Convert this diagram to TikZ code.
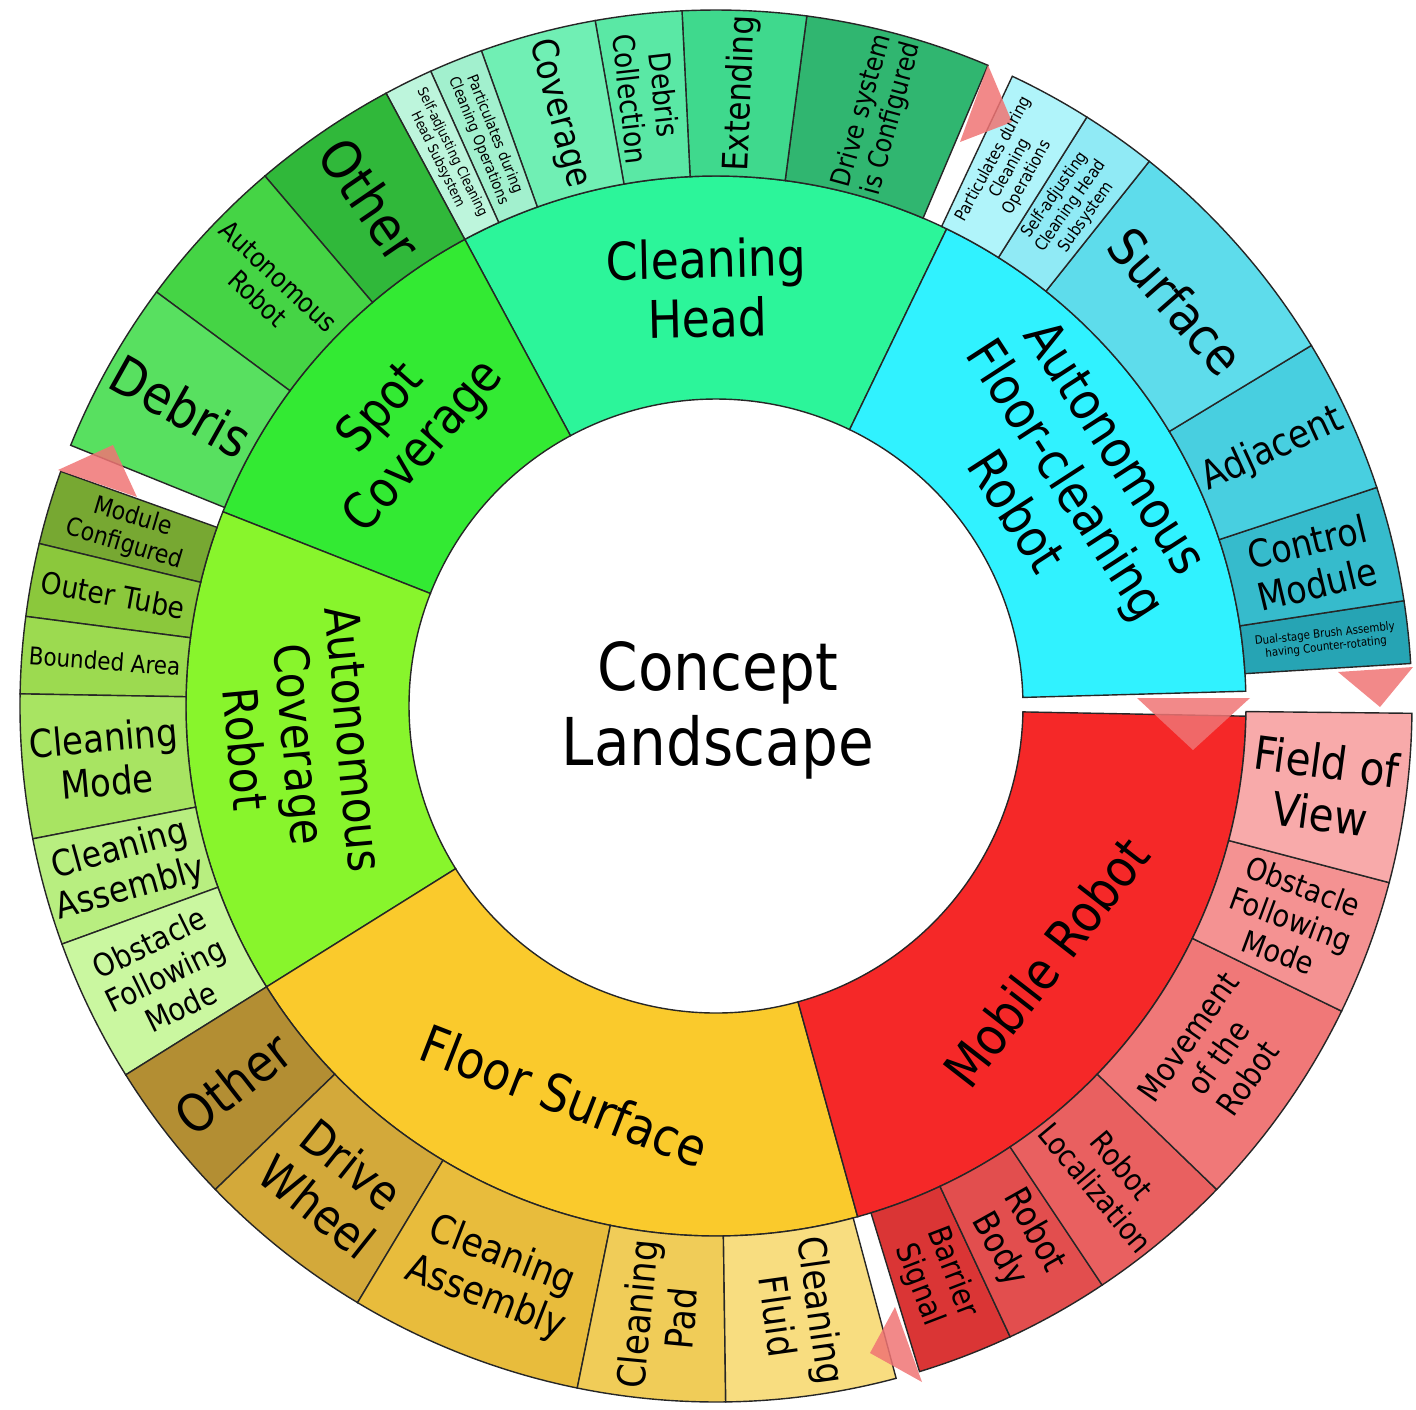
\documentclass[tikz,border=0pt]{standalone}
\usepackage{fontspec}
\setmainfont{DejaVu Sans}[FakeStretch=0.88]
\usepackage{tikz}

\definecolor{chead}{HTML}{2CF59A}
\definecolor{spot}{HTML}{33EA33}
\definecolor{acov}{HTML}{88F52C}
\definecolor{floor}{HTML}{FACA2C}
\definecolor{mobile}{HTML}{F52828}
\definecolor{afloor}{HTML}{30F2FF}
\definecolor{cyA}{HTML}{B0F4FA}
\definecolor{cyB}{HTML}{90EAF5}
\definecolor{cyC}{HTML}{5EDCEB}
\definecolor{cyD}{HTML}{48CFE0}
\definecolor{cyE}{HTML}{36BBCC}
\definecolor{cyF}{HTML}{26A4B4}
\definecolor{ghA}{HTML}{BDF5DC}
\definecolor{ghB}{HTML}{A2F0CE}
\definecolor{ghC}{HTML}{70EFB4}
\definecolor{ghD}{HTML}{5AE8A5}
\definecolor{ghE}{HTML}{3FD98D}
\definecolor{ghF}{HTML}{30B670}
\definecolor{spA}{HTML}{58E060}
\definecolor{spB}{HTML}{45D445}
\definecolor{spC}{HTML}{30B83A}
\definecolor{cvA}{HTML}{CAF7A0}
\definecolor{cvB}{HTML}{B8EE80}
\definecolor{cvC}{HTML}{A8E462}
\definecolor{cvD}{HTML}{9CDA50}
\definecolor{cvE}{HTML}{8BC83C}
\definecolor{cvF}{HTML}{77A832}
\definecolor{flA}{HTML}{B38E33}
\definecolor{flB}{HTML}{D3A93A}
\definecolor{flC}{HTML}{E8BC3C}
\definecolor{flD}{HTML}{F0CC58}
\definecolor{flE}{HTML}{F8DD80}
\definecolor{mrA}{HTML}{DA3535}
\definecolor{mrB}{HTML}{E24E4E}
\definecolor{mrC}{HTML}{E96060}
\definecolor{mrD}{HTML}{F07878}
\definecolor{mrE}{HTML}{F49292}
\definecolor{mrF}{HTML}{F8AAAA}
\definecolor{marker}{HTML}{F07474}

\def\ri{153.5pt}
\def\rmid{265pt}
\def\ro{348pt}
\newcommand{\seg}[5]{\filldraw[seg,fill=#5] (#1:#3) arc[start angle=#1,end angle=#2,radius=#3] -- (#2:#4) arc[start angle=#2,end angle=#1,radius=#4] -- cycle;}
\newcommand{\fs}[1]{\fontsize{#1}{\fpeval{1.14*#1}}\selectfont}

\begin{document}
\begin{tikzpicture}[seg/.style={draw=black!85,line width=0.7pt},
  lbl/.style={align=center,inner sep=0pt,text=black},
  gapmark/.style={fill=marker,opacity=0.85}]
\useasboundingbox (-358pt,-351.5pt) rectangle (350pt,353pt);

% inner ring
\seg{64.2}{118.3}{\ri}{\rmid}{chead}
\seg{118.3}{158.5}{\ri}{\rmid}{spot}
\seg{158.5}{212}{\ri}{\rmid}{acov}
\seg{212}{285.5}{\ri}{\rmid}{floor}
\seg{285.5}{358.9}{\ri}{\rmid}{mobile}
\seg{1.6}{64.2}{\ri}{\rmid}{afloor}

% outer ring
\seg{3.5}{8.7}{\rmid}{\ro}{cyF}
\seg{8.7}{18.3}{\rmid}{\ro}{cyE}
\seg{18.3}{31.2}{\rmid}{\ro}{cyD}
\seg{31.2}{51.5}{\rmid}{\ro}{cyC}
\seg{51.5}{57.8}{\rmid}{\ro}{cyB}
\seg{57.8}{64.8}{\rmid}{\ro}{cyA}
\seg{67}{82.5}{\rmid}{\ro}{ghF}
\seg{82.5}{92.8}{\rmid}{\ro}{ghE}
\seg{92.8}{100}{\rmid}{\ro}{ghD}
\seg{100}{109.7}{\rmid}{\ro}{ghC}
\seg{109.7}{114.2}{\rmid}{\ro}{ghB}
\seg{114.2}{118.3}{\rmid}{\ro}{ghA}
\seg{118.3}{130.4}{\rmid}{\ro}{spC}
\seg{130.4}{143.5}{\rmid}{\ro}{spB}
\seg{143.5}{158}{\rmid}{\ro}{spA}
\seg{160.3}{166.5}{\rmid}{\ro}{cvF}
\seg{166.5}{172.6}{\rmid}{\ro}{cvE}
\seg{172.6}{179}{\rmid}{\ro}{cvD}
\seg{179}{191}{\rmid}{\ro}{cvC}
\seg{191}{200}{\rmid}{\ro}{cvB}
\seg{200}{212}{\rmid}{\ro}{cvA}
\seg{212}{224}{\rmid}{\ro}{flA}
\seg{224}{239}{\rmid}{\ro}{flB}
\seg{239}{258.5}{\rmid}{\ro}{flC}
\seg{258.5}{270.8}{\rmid}{\ro}{flD}
\seg{270.8}{285}{\rmid}{\ro}{flE}
\seg{287}{295}{\rmid}{\ro}{mrA}
\seg{295}{303.7}{\rmid}{\ro}{mrB}
\seg{303.7}{316}{\rmid}{\ro}{mrC}
\seg{316}{334}{\rmid}{\ro}{mrD}
\seg{334}{345.3}{\rmid}{\ro}{mrE}
\seg{345.3}{359.4}{\rmid}{\ro}{mrF}

% gap markers
\fill[gapmark] (136pt,320.5pt) -- (148pt,292pt) -- (122pt,282pt) -- cycle;
\fill[gapmark] (-301.5pt,130.5pt) -- (-289.5pt,104.5pt) -- (-329pt,118pt) -- cycle;
\fill[gapmark] (210.5pt,4pt) -- (267pt,4pt) -- (238.5pt,-22pt) -- cycle;
\fill[gapmark] (311pt,17pt) -- (348.5pt,19.5pt) -- (332pt,-0.5pt) -- cycle;
\fill[gapmark] (89.5pt,-300.5pt) -- (77pt,-323.5pt) -- (103pt,-338pt) -- cycle;

\node[lbl,font=\fs{33}] (centre) at (1pt,-2pt) {Concept\\Landscape};

\node[lbl,rotate=1.25,font=\fs{26}] (m1) at (91.25:209pt) {Cleaning\\Head};
\node[lbl,rotate=48.4,font=\fs{25}] (m2) at (138.4:209pt) {Spot\\Coverage};
\node[lbl,rotate=-84.75,font=\fs{24}] (m3) at (185.25:209pt) {Autonomous\\Coverage\\Robot};
\node[lbl,rotate=-21.25,font=\fs{26}] (m4) at (248.75:209pt) {Floor Surface};
\node[lbl,rotate=52.2,font=\fs{26}] (m5) at (322.2:209pt) {Mobile Robot};
\node[lbl,rotate=-57.1,font=\fs{26}] (m6) at (32.9:209pt) {Autonomous\\Floor-cleaning\\Robot};

\node[lbl,rotate=6.1,font=\fs{5.8}] (o1) at (6.1:306.5pt) {Dual-stage Brush Assembly\\having Counter-rotating};
\node[lbl,rotate=13.5,font=\fs{19}] (o2) at (13.5:306.5pt) {Control\\Module};
\node[lbl,rotate=24.75,font=\fs{19.5}] (o3) at (24.75:306.5pt) {Adjacent};
\node[lbl,rotate=-48.65,font=\fs{26}] (o4) at (41.35:306.5pt) {Surface};
\node[lbl,rotate=54.65,font=\fs{8.4}] (o5) at (54.65:306.5pt) {Self-adjusting\\Cleaning Head\\Subsystem};
\node[lbl,rotate=61.3,font=\fs{8.4}] (o6) at (61.3:306.5pt) {Particulates during\\Cleaning\\Operations};
\node[lbl,rotate=74.75,font=\fs{13.5}] (o7) at (74.75:306.5pt) {Drive system\\is Configured};
\node[lbl,rotate=87.65,font=\fs{17.5}] (o8) at (87.65:306.5pt) {Extending};
\node[lbl,rotate=-83.6,font=\fs{15}] (o9) at (96.4:306.5pt) {Debris\\Collection};
\node[lbl,rotate=-75.15,font=\fs{18}] (o10) at (104.85:306.5pt) {Coverage};
\node[lbl,rotate=-68,font=\fs{7.6}] (o11) at (112:306.5pt) {Particulates during\\Cleaning Operations};
\node[lbl,rotate=-63.75,font=\fs{7}] (o12) at (116.25:306.5pt) {Self-adjusting Cleaning\\Head Subsystem};
\node[lbl,rotate=-55.65,font=\fs{27}] (o13) at (124.35:306.5pt) {Other};
\node[lbl,rotate=-43.05,font=\fs{13.4}] (o14) at (136.95:306.5pt) {Autonomous\\Robot};
\node[lbl,rotate=-29.25,font=\fs{26.5}] (o15) at (150.75:306.5pt) {Debris};
\node[lbl,rotate=-16.6,font=\fs{12.5}] (o16) at (163.4:306.5pt) {Module\\Configured};
\node[lbl,rotate=-10.45,font=\fs{15}] (o17) at (169.55:306.5pt) {Outer Tube};
\node[lbl,rotate=-4.2,font=\fs{12.2}] (o18) at (175.8:306.5pt) {Bounded Area};
\node[lbl,rotate=5,font=\fs{19.3}] (o19) at (185:306.5pt) {Cleaning\\Mode};
\node[lbl,rotate=15.5,font=\fs{18}] (o20) at (195.5:306.5pt) {Cleaning\\Assembly};
\node[lbl,rotate=26,font=\fs{15.7}] (o21) at (206:306.5pt) {Obstacle\\Following\\Mode};
\node[lbl,rotate=38,font=\fs{26}] (o22) at (218:306.5pt) {Other};
\node[lbl,rotate=-38.5,font=\fs{24}] (o23) at (231.5:306.5pt) {Drive\\Wheel};
\node[lbl,rotate=-21.25,font=\fs{19.8}] (o24) at (248.75:306.5pt) {Cleaning\\Assembly};
\node[lbl,rotate=84.65,font=\fs{19.3}] (o25) at (264.65:306.5pt) {Cleaning\\Pad};
\node[lbl,rotate=-82.1,font=\fs{19.3}] (o26) at (277.9:306.5pt) {Cleaning\\Fluid};
\node[lbl,rotate=-69,font=\fs{15.6}] (o27) at (291:306.5pt) {Barrier\\Signal};
\node[lbl,rotate=-60.65,font=\fs{17.5}] (o28) at (299.35:306.5pt) {Robot\\Body};
\node[lbl,rotate=-50.15,font=\fs{15.2}] (o29) at (309.85:306.5pt) {Robot\\Localization};
\node[lbl,rotate=55,font=\fs{16}] (o30) at (325:306.5pt) {Movement\\of the\\Robot};
\node[lbl,rotate=-20.35,font=\fs{15.4}] (o31) at (339.65:306.5pt) {Obstacle\\Following\\Mode};
\node[lbl,rotate=-7.65,font=\fs{23}] (o32) at (352.35:306.5pt) {Field of\\View};
\end{tikzpicture}
\end{document}
